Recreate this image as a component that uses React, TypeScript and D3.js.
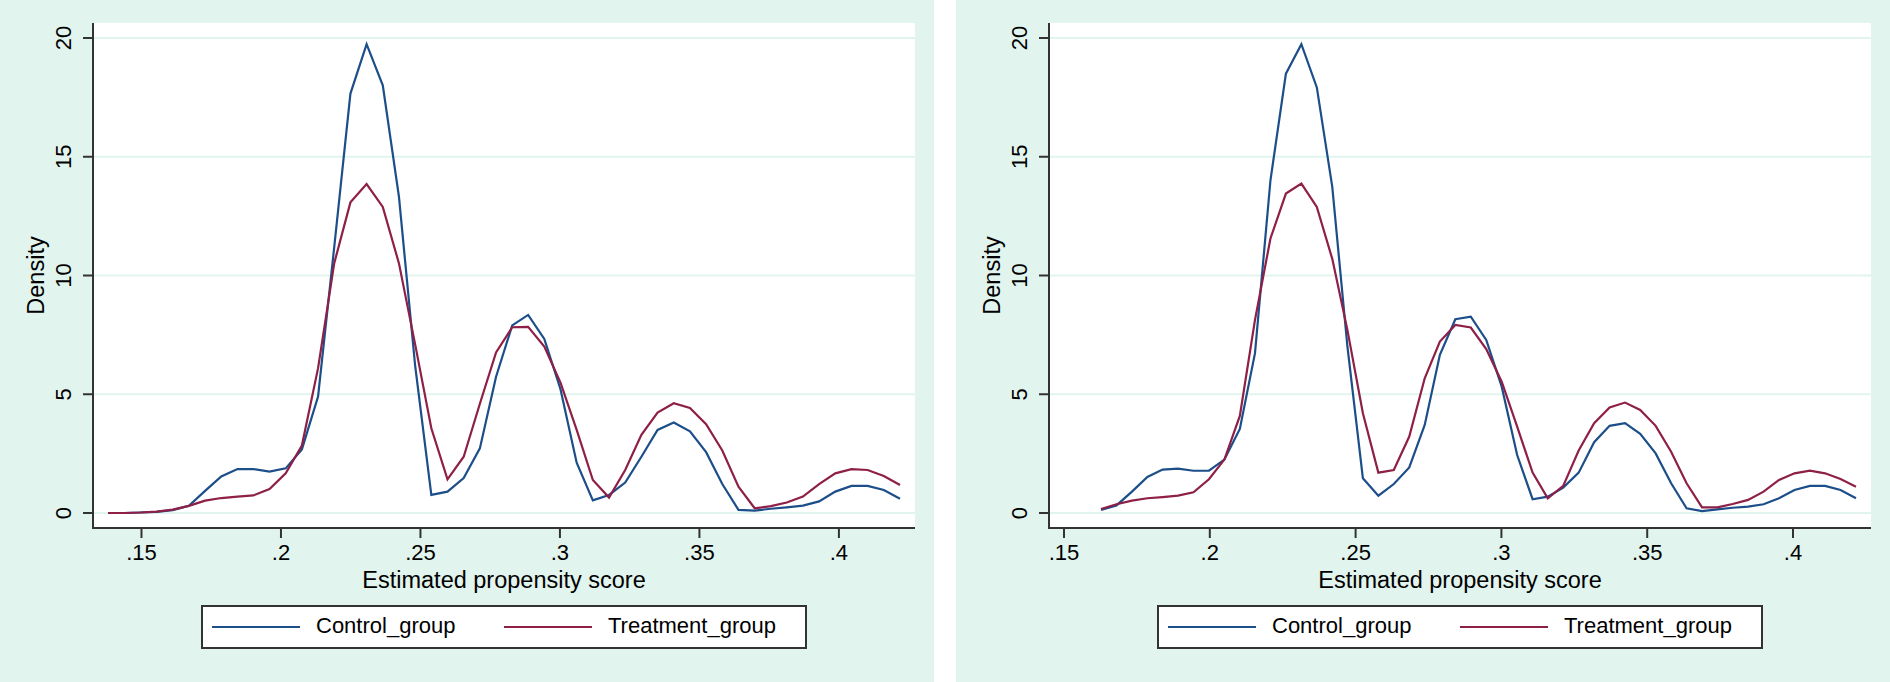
import React from 'react';
import * as d3 from 'd3';

// ---- data ----
const xTickValues = [0.15, 0.2, 0.25, 0.3, 0.35, 0.4];
const xTickLabels = ['.15', '.2', '.25', '.3', '.35', '.4'];
const yTickValues = [0, 5, 10, 15, 20];
const yTickLabels = ['0', '5', '10', '15', '20'];
const seriesNames = ['Control_group', 'Treatment_group'];

const leftX = [
  0.1380, 0.1438, 0.1496, 0.1554, 0.1612, 0.1670, 0.1728, 0.1786, 0.1844, 0.1901,
  0.1959, 0.2017, 0.2075, 0.2133, 0.2191, 0.2249, 0.2307, 0.2365, 0.2423, 0.2481,
  0.2539, 0.2597, 0.2655, 0.2713, 0.2771, 0.2829, 0.2886, 0.2944, 0.3002, 0.3060,
  0.3118, 0.3176, 0.3234, 0.3292, 0.3350, 0.3408, 0.3466, 0.3524, 0.3582, 0.3640,
  0.3698, 0.3756, 0.3813, 0.3871, 0.3929, 0.3987, 0.4045, 0.4103, 0.4161, 0.4219,
];
const leftControl = [
  0, 0, 0.02, 0.05, 0.12, 0.3, 0.93, 1.54, 1.85, 1.85,
  1.74, 1.88, 2.68, 4.9, 11.2, 17.66, 19.74, 18.01, 13.31, 6.2,
  0.76, 0.9, 1.47, 2.72, 5.74, 7.9, 8.34, 7.33, 5.21, 2.12,
  0.53, 0.76, 1.28, 2.37, 3.5, 3.81, 3.44, 2.56, 1.22, 0.13,
  0.1, 0.18, 0.24, 0.31, 0.49, 0.9, 1.14, 1.14, 0.97, 0.6,
];
const leftTreatment = [
  0, 0, 0.02, 0.06, 0.14, 0.3, 0.52, 0.63, 0.69, 0.74,
  1.01, 1.67, 2.84, 6.1, 10.52, 13.08, 13.85, 12.89, 10.51, 7.1,
  3.57, 1.42, 2.37, 4.6, 6.76, 7.82, 7.84, 7.01, 5.49, 3.5,
  1.39, 0.65, 1.81, 3.29, 4.23, 4.62, 4.42, 3.74, 2.63, 1.11,
  0.2, 0.29, 0.44, 0.69, 1.22, 1.67, 1.85, 1.81, 1.56, 1.18,
];

const rightX = [
  0.1627, 0.1680, 0.1733, 0.1786, 0.1838, 0.1891, 0.1944, 0.1997, 0.2050, 0.2103,
  0.2155, 0.2208, 0.2261, 0.2314, 0.2367, 0.2420, 0.2472, 0.2525, 0.2578, 0.2631,
  0.2684, 0.2737, 0.2789, 0.2842, 0.2895, 0.2948, 0.3001, 0.3054, 0.3107, 0.3159,
  0.3212, 0.3265, 0.3318, 0.3371, 0.3424, 0.3476, 0.3529, 0.3582, 0.3635, 0.3688,
  0.3741, 0.3793, 0.3846, 0.3899, 0.3952, 0.4005, 0.4058, 0.4110, 0.4163, 0.4216,
];
const rightControl = [
  0.13, 0.32, 0.9, 1.52, 1.83, 1.87, 1.78, 1.78, 2.25, 3.54,
  6.73, 14.01, 18.5, 19.74, 17.92, 13.73, 7.0, 1.46, 0.73, 1.22,
  1.92, 3.71, 6.66, 8.16, 8.27, 7.29, 5.32, 2.44, 0.58, 0.69,
  1.07, 1.7, 2.98, 3.67, 3.78, 3.33, 2.51, 1.25, 0.2, 0.08,
  0.15, 0.22, 0.27, 0.37, 0.62, 0.97, 1.14, 1.14, 0.97, 0.62,
];
const rightTreatment = [
  0.17, 0.37, 0.52, 0.62, 0.67, 0.73, 0.87, 1.42, 2.25, 4.09,
  8.13, 11.56, 13.45, 13.87, 12.89, 10.7, 7.7, 4.2, 1.7, 1.81,
  3.22, 5.67, 7.22, 7.92, 7.81, 6.9, 5.53, 3.64, 1.7, 0.62,
  1.14, 2.63, 3.78, 4.44, 4.65, 4.34, 3.67, 2.58, 1.25, 0.24,
  0.24, 0.38, 0.55, 0.9, 1.39, 1.67, 1.78, 1.67, 1.43, 1.11,
];

// ---- styling / layout ----
const W = 1890;
const H = 682;
const PANEL_W = 934;
const PANEL_GAP = 22;
const PLOT = { l: 93, r: 915, t: 23, b: 528 };
const PAD = 15;
const BG = '#e2f4ee';
const GRID = '#e2f4ee';
const AXIS = '#333333';
const COLORS = ['#1c4e89', '#8e1f47'];
const FONT = '"Liberation Sans", Arial, Helvetica, sans-serif';

type PanelProps = { x0: number; xs: number[]; ctrl: number[]; trt: number[] };

function Panel({ x0, xs, ctrl, trt }: PanelProps) {
  const xMin = Math.min(d3.min(xs) as number, xTickValues[0]);
  const xMax = Math.max(d3.max(xs) as number, xTickValues[xTickValues.length - 1]);
  const x = d3.scaleLinear().domain([xMin, xMax]).range([PLOT.l + PAD, PLOT.r - PAD]);
  const y = d3.scaleLinear().domain([0, 20]).range([PLOT.b - PAD, PLOT.t + PAD]);
  const mk = (vals: number[]) =>
    d3
      .line<number>()
      .x((_, i) => x(xs[i]))
      .y((d) => y(d))(vals) as string;

  const cx = (PLOT.l + PLOT.r) / 2;
  const legW = 604;
  const legX = cx - legW / 2;
  const legY = 606;
  const legH = 42;

  return (
    <g transform={`translate(${x0},0)`}>
      <rect x={0} y={0} width={PANEL_W} height={H} fill={BG} />
      <rect x={PLOT.l} y={PLOT.t} width={PLOT.r - PLOT.l} height={PLOT.b - PLOT.t} fill="#ffffff" />
      {yTickValues.map((v) => (
        <line key={'g' + v} x1={PLOT.l} x2={PLOT.r} y1={y(v)} y2={y(v)} stroke={GRID} strokeWidth={2} />
      ))}
      <path d={mk(ctrl)} fill="none" stroke={COLORS[0]} strokeWidth={2.2} strokeLinejoin="miter" />
      <path d={mk(trt)} fill="none" stroke={COLORS[1]} strokeWidth={2.2} strokeLinejoin="miter" />
      {/* axes */}
      <line x1={PLOT.l} x2={PLOT.l} y1={PLOT.t} y2={PLOT.b + 1} stroke={AXIS} strokeWidth={2} />
      <line x1={PLOT.l - 1} x2={PLOT.r} y1={PLOT.b} y2={PLOT.b} stroke={AXIS} strokeWidth={2} />
      {yTickValues.map((v, i) => (
        <g key={'yt' + v}>
          <line x1={PLOT.l - 10} x2={PLOT.l} y1={y(v)} y2={y(v)} stroke={AXIS} strokeWidth={2} />
          <text
            transform={`translate(${PLOT.l - 22.5},${y(v)}) rotate(-90)`}
            textAnchor="middle"
            fontSize={22}
            fontFamily={FONT}
            fill="#000"
          >
            {yTickLabels[i]}
          </text>
        </g>
      ))}
      {xTickValues.map((v, i) => (
        <g key={'xt' + v}>
          <line x1={x(v)} x2={x(v)} y1={PLOT.b} y2={PLOT.b + 10} stroke={AXIS} strokeWidth={2} />
          <text x={x(v)} y={560} textAnchor="middle" fontSize={22} fontFamily={FONT} fill="#000">
            {xTickLabels[i]}
          </text>
        </g>
      ))}
      <text
        transform={`translate(${PLOT.l - 49.5},${(PLOT.t + PLOT.b) / 2}) rotate(-90)`}
        textAnchor="middle"
        fontSize={23.5}
        fontFamily={FONT}
        fill="#000"
      >
        Density
      </text>
      <text x={cx} y={588} textAnchor="middle" fontSize={23.5} fontFamily={FONT} fill="#000">
        Estimated propensity score
      </text>
      {/* legend */}
      <rect x={legX} y={legY} width={legW} height={legH} fill="#ffffff" stroke={AXIS} strokeWidth={2} />
      <line x1={legX + 10} x2={legX + 98} y1={legY + 21} y2={legY + 21} stroke={COLORS[0]} strokeWidth={2.2} />
      <text x={legX + 114} y={legY + 27} fontSize={22} fontFamily={FONT} fill="#000">
        {seriesNames[0]}
      </text>
      <line x1={legX + 302} x2={legX + 390} y1={legY + 21} y2={legY + 21} stroke={COLORS[1]} strokeWidth={2.2} />
      <text x={legX + 406} y={legY + 27} fontSize={22} fontFamily={FONT} fill="#000">
        {seriesNames[1]}
      </text>
    </g>
  );
}

export default function App() {
  return (
    <svg
      width={W}
      height={H}
      viewBox={`0 0 ${W} ${H}`}
      style={{ position: 'absolute', left: 0, top: 0, display: 'block', background: '#ffffff' }}
    >
      <Panel x0={0} xs={leftX} ctrl={leftControl} trt={leftTreatment} />
      <Panel x0={PANEL_W + PANEL_GAP} xs={rightX} ctrl={rightControl} trt={rightTreatment} />
    </svg>
  );
}
